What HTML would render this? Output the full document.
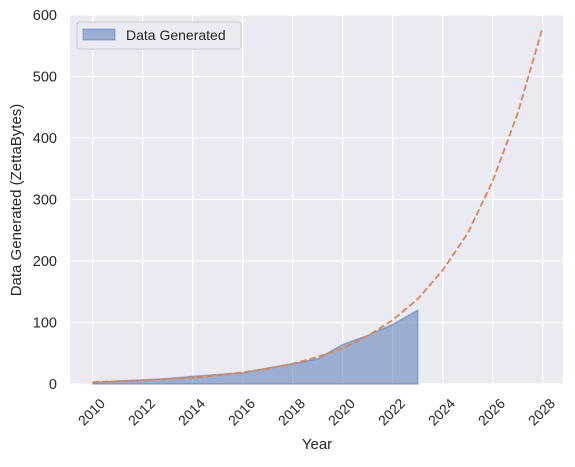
<!DOCTYPE html>
<html><head><meta charset="utf-8"><style>
body{margin:0;background:#fff;}
svg text{font-family:"Liberation Sans",Arial,sans-serif;fill:#262626;}
</style></head><body>
<svg width="575" height="462" xmlns="http://www.w3.org/2000/svg">
<rect x="70" y="15" width="493" height="369" fill="#eaeaf2"/>
<g id="grid"></g>
<g id="marks"></g>
<g id="ticks"></g>
<text x="317" y="449" font-size="15" text-anchor="middle">Year</text>
<text transform="translate(21,200) rotate(-90)" font-size="15" text-anchor="middle">Data Generated (ZettaBytes)</text>
<g>
<rect x="77" y="22" width="164" height="27" rx="3" fill="#eaeaf2" stroke="#cccccc"/>
<rect x="83" y="29" width="32" height="11" fill="#4c72b0" fill-opacity="0.5" stroke="#4c72b0" stroke-opacity="0.5"/>
<text x="126" y="40" font-size="14">Data Generated</text>
</g>
</svg>
<script>
const actualYears=[2010,2011,2012,2013,2014,2015,2016,2017,2018,2019,2020,2021,2022,2023];
const actualValues=[2,5,6.5,9,12.5,15.5,18,26,33,41,64.2,79,97,120];
const forecastYears=[2010,2011,2012,2013,2014,2015,2016,2017,2018,2019,2020,2021,2022,2023,2024,2025,2026,2027,2028];
const forecastValues=[3,4.5,6,8,10.5,14,19,25,33,44,58,78,104,138,185,245,330,440,580];
const xTicks=[2010,2012,2014,2016,2018,2020,2022,2024,2026,2028];
const yTicks=[0,100,200,300,400,500,600];
const NS="http://www.w3.org/2000/svg";
const X=v=>92.7+(v-2010)*25;
const Y=v=>384-(v)*369/600;
function mk(t,a,p){const e=document.createElementNS(NS,t);for(const k in a)e.setAttribute(k,a[k]);document.getElementById(p).appendChild(e);return e;}
xTicks.forEach(t=>{
 const l=mk('line',{x1:X(t),x2:X(t),y1:15,y2:384,stroke:'#fff','stroke-width':1.2},'grid');
 
 
 const tx=mk('text',{transform:`translate(${X(t)+6},${397}) rotate(-45)`,'font-size':14,'text-anchor':'end','dominant-baseline':'hanging'},'ticks');
 tx.textContent=t;
 
 
});
yTicks.forEach(t=>{
 const l=mk('line',{x1:70,x2:563,y1:Y(t),y2:Y(t),stroke:'#fff','stroke-width':1.2},'grid');
 
 
 const tx=mk('text',{x:57,y:Y(t)+5,'font-size':14.5,'text-anchor':'end'},'ticks');
 tx.textContent=t;
 
 
});
let d='M'+X(actualYears[0])+','+Y(0);
actualYears.forEach((y,i)=>d+=' L'+X(y)+','+Y(actualValues[i]));
d+=' L'+X(actualYears[actualYears.length-1])+','+Y(0)+' Z';
const a=mk('path',{d:d,fill:'#4c72b0','fill-opacity':0.5,stroke:'#4c72b0','stroke-opacity':0.5,'stroke-width':1.5},'marks');


const pts=forecastYears.map((y,i)=>X(y)+','+Y(forecastValues[i])).join(' ');
const f=mk('polyline',{points:pts,fill:'none',stroke:'#dd8452','stroke-width':1.8,'stroke-dasharray':'6.5,3'},'marks');


</script>
</body></html>
